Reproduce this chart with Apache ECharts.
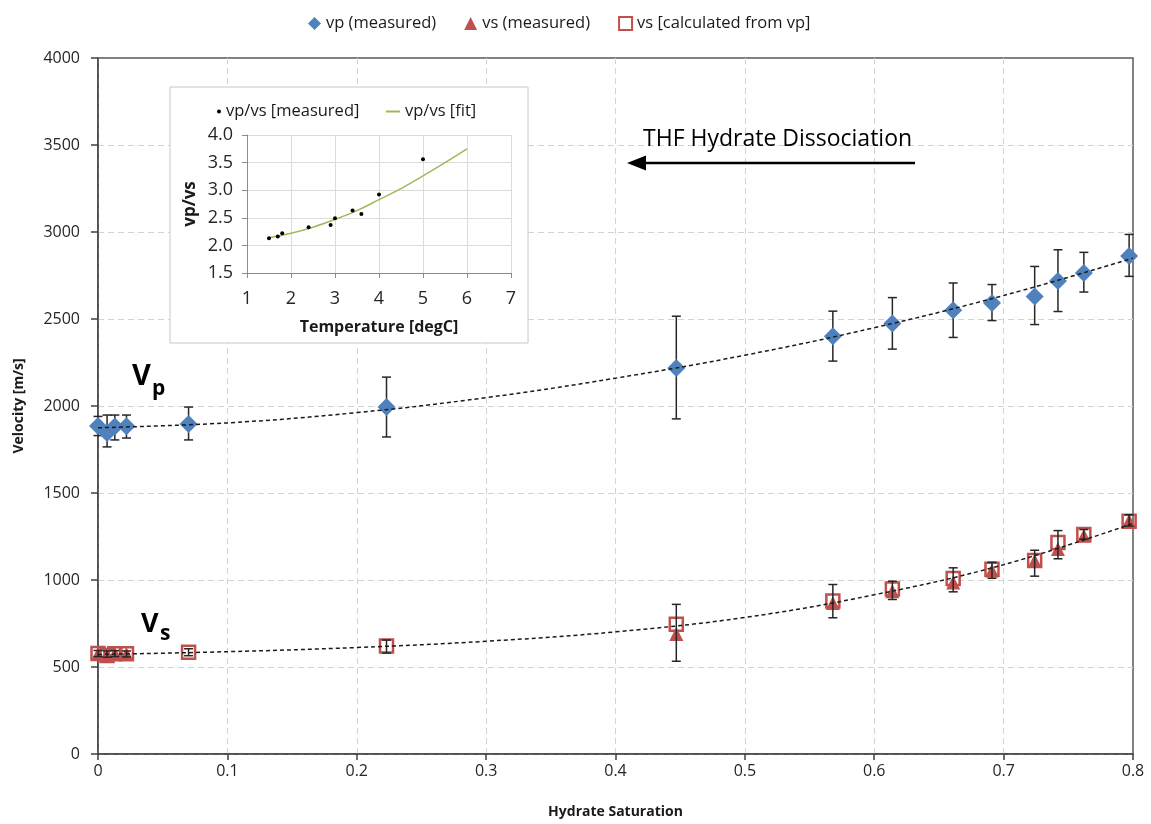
<!DOCTYPE html>
<html>
<head>
<meta charset="utf-8">
<title>Velocity vs Hydrate Saturation</title>
<script src="https://cdn.jsdelivr.net/npm/echarts@6/dist/echarts.min.js"></script>
<style>
  html, body { margin: 0; padding: 0; background: #fff; }
  #chart { width: 1151px; height: 824px; }
</style>
</head>
<body>
<div id="chart"></div>
<script>
// Hydrate saturation of each measurement step
const satVp = [0.000, 0.007, 0.013, 0.022, 0.070, 0.223, 0.447, 0.568, 0.614, 0.661, 0.691, 0.724, 0.742, 0.762, 0.797];
// P-wave velocity [m/s] with error range
const vpMeasured = [1885, 1845, 1882, 1884, 1897, 1994, 2218, 2401, 2474, 2550, 2592, 2630, 2718, 2764, 2862];
const vpLow  = [1830, 1765, 1805, 1816, 1805, 1822, 1926, 2258, 2327, 2394, 2491, 2468, 2543, 2655, 2745];
const vpHigh = [1940, 1948, 1948, 1948, 1994, 2166, 2516, 2545, 2623, 2707, 2698, 2802, 2898, 2883, 2986];

// S-wave velocity calculated from vp [m/s]
const vsCalculated = [578, 566, 576, 576, 585, 620, 745, 880, 948, 1008, 1062, 1112, 1215, 1262, 1338];
const vsLow  = [560, 556, 560, 558, 565, 580, 533, 783, 888, 932, 1010, 1022, 1122, 1235, 1310];
const vsHigh = [595, 592, 594, 592, 605, 655, 860, 974, 993, 1070, 1102, 1171, 1284, 1290, 1375];

// S-wave velocity measured [m/s]
const satVs = [0.000, 0.007, 0.013, 0.022, 0.447, 0.568, 0.614, 0.661, 0.691, 0.724, 0.742, 0.762, 0.797];
const vsMeasured = [575, 575, 578, 575, 690, 868, 935, 985, 1055, 1110, 1178, 1255, 1340];

// Trend lines
const fitSat = [0, 0.1, 0.2, 0.3, 0.4, 0.5, 0.6, 0.7, 0.8];
const vpFit = [1875, 1903, 1962, 2048, 2160, 2292, 2450, 2635, 2850];
const vsFit = [572, 588, 612, 648, 702, 785, 915, 1088, 1325];

// Inset: vp/vs ratio against temperature
const tempMeasured = [1.5, 1.7, 1.8, 2.4, 2.9, 3.0, 3.4, 3.6, 4.0, 5.0];
const ratioMeasured = [2.13, 2.16, 2.22, 2.33, 2.37, 2.49, 2.63, 2.57, 2.92, 3.56];
const tempFit = [1.5, 2, 2.5, 3, 3.5, 4, 4.5, 5, 5.5, 6];
const ratioFit = [2.14, 2.22, 2.33, 2.47, 2.63, 2.83, 3.03, 3.26, 3.50, 3.75];

// Tick settings
const velocityTicks = { min: 0, max: 4000, interval: 500 };
const saturationTicks = { min: 0, max: 0.8, interval: 0.1 };
const tempTicks = { min: 1, max: 7, interval: 1 };
const ratioTicks = { min: 1.5, max: 4.0, interval: 0.5 };

const FONT = "'Open Sans', 'Noto Sans', sans-serif";
const BLUE = '#4F81BD';
const RED = '#C0504D';
const GREEN = '#9BBB59';

const pairs = (xs, ys) => xs.map((x, i) => [x, ys[i]]);
const ranges = (xs, lo, hi) => xs.map((x, i) => [x, lo[i], hi[i]]);

function errorBar(params, api) {
  const x = api.value(0);
  const lo = api.coord([x, api.value(1)]);
  const hi = api.coord([x, api.value(2)]);
  const half = 4.5;
  const style = { stroke: '#262626', lineWidth: 1.5 };
  return {
    type: 'group',
    children: [
      { type: 'line', shape: { x1: lo[0], y1: lo[1], x2: hi[0], y2: hi[1] }, style },
      { type: 'line', shape: { x1: lo[0] - half, y1: lo[1], x2: lo[0] + half, y2: lo[1] }, style },
      { type: 'line', shape: { x1: hi[0] - half, y1: hi[1], x2: hi[0] + half, y2: hi[1] }, style }
    ]
  };
}

const chart = echarts.init(document.getElementById('chart'));

const gridLine = { show: true, showMaxLine: false, lineStyle: { color: '#d3d3d3', type: [6, 4], width: 1 } };
const insetGridLine = { show: true, lineStyle: { color: '#dcdcdc', width: 1 } };
const legendText = { fontSize: 16.5, color: '#1a1a1a', fontFamily: FONT };

chart.setOption({
  animation: false,
  backgroundColor: '#fff',
  textStyle: { fontFamily: FONT },
  legend: [
    {
      data: ['vp (measured)', 'vs (measured)', 'vs [calculated from vp]'],
      left: 303, top: 10,
      itemWidth: 13, itemHeight: 13, itemGap: 28,
      textStyle: legendText
    },
    {
      data: ['vp/vs [measured]'],
      left: 212, top: 98, zlevel: 1, z: 10,
      itemWidth: 4, itemHeight: 4, itemGap: 4,
      textStyle: legendText
    },
    {
      data: [{ name: 'vp/vs [fit]', icon: 'rect' }],
      left: 381, top: 98, zlevel: 1, z: 10,
      itemWidth: 14, itemHeight: 2, itemGap: 2,
      textStyle: legendText
    }
  ],
  grid: [
    {
      left: 98, right: 18, top: 58, bottom: 69,
      show: true, borderColor: '#595959', borderWidth: 1.5, backgroundColor: 'transparent'
    },
    {
      left: 247, top: 135, width: 264, height: 138,
      zlevel: 1, z: 2, show: false
    }
  ],
  xAxis: [
    {
      type: 'value', gridIndex: 0,
      min: saturationTicks.min, max: saturationTicks.max, interval: saturationTicks.interval,
      name: 'Hydrate Saturation', nameLocation: 'middle', nameGap: 51,
      nameTextStyle: { fontSize: 14, fontWeight: 'bold', color: '#1a1a1a', fontFamily: FONT },
      axisLine: { lineStyle: { color: '#404040', width: 1.5 } },
      axisTick: { show: true, inside: false, length: 6, lineStyle: { color: '#404040', width: 1.5 } },
      axisLabel: {
        fontSize: 16, color: '#262626', margin: 9, fontFamily: FONT,
        formatter: v => (v === 0 ? '0' : v.toFixed(1))
      },
      splitLine: gridLine
    },
    {
      type: 'value', gridIndex: 1, zlevel: 1, z: 3,
      min: tempTicks.min, max: tempTicks.max, interval: tempTicks.interval,
      name: 'Temperature [degC]', nameLocation: 'middle', nameGap: 46,
      nameTextStyle: { fontSize: 16, fontWeight: 'bold', color: '#1a1a1a', fontFamily: FONT },
      axisLine: { lineStyle: { color: '#8c8c8c', width: 1 } },
      axisTick: { show: true, inside: false, length: 5, lineStyle: { color: '#8c8c8c' } },
      axisLabel: { fontSize: 18, color: '#262626', margin: 17, fontFamily: FONT },
      splitLine: insetGridLine
    }
  ],
  yAxis: [
    {
      type: 'value', gridIndex: 0,
      min: velocityTicks.min, max: velocityTicks.max, interval: velocityTicks.interval,
      name: 'Velocity [m/s]', nameLocation: 'middle', nameGap: 72,
      nameTextStyle: { fontSize: 14, fontWeight: 'bold', color: '#1a1a1a', fontFamily: FONT },
      axisLine: { show: true, lineStyle: { color: '#404040', width: 1.5 } },
      axisTick: { show: true, inside: false, length: 7, lineStyle: { color: '#404040', width: 1.5 } },
      axisLabel: { fontSize: 16, color: '#262626', margin: 18, fontFamily: FONT, formatter: v => String(v) },
      splitLine: gridLine
    },
    {
      type: 'value', gridIndex: 1, zlevel: 1, z: 3,
      min: ratioTicks.min, max: ratioTicks.max, interval: ratioTicks.interval,
      name: 'vp/vs', nameLocation: 'middle', nameGap: 48,
      nameTextStyle: { fontSize: 17, fontWeight: 'bold', color: '#1a1a1a', fontFamily: FONT },
      axisLine: { show: true, lineStyle: { color: '#8c8c8c', width: 1 } },
      axisTick: { show: true, inside: false, length: 5, lineStyle: { color: '#8c8c8c' } },
      axisLabel: { fontSize: 18, color: '#262626', margin: 14, fontFamily: FONT, formatter: v => v.toFixed(1) },
      splitLine: insetGridLine
    }
  ],
  graphic: [
    // inset frame
    {
      type: 'rect', zlevel: 1, z: 0,
      shape: { x: 170, y: 87, width: 358, height: 256 },
      style: { fill: '#ffffff', stroke: '#c8c8c8', lineWidth: 1 }
    },
    // annotation
    {
      type: 'text', x: 643, y: 139, z: 20,
      style: { text: 'THF Hydrate Dissociation', fontSize: 23, fontFamily: FONT, fill: '#000', verticalAlign: 'middle' }
    },
    {
      type: 'line', z: 20,
      shape: { x1: 915, y1: 163, x2: 642, y2: 163 },
      style: { stroke: '#000', lineWidth: 2.5 }
    },
    {
      type: 'polygon', z: 20,
      shape: { points: [[627, 163], [646, 155.5], [646, 170.5]] },
      style: { fill: '#000' }
    },
    // curve labels
    {
      type: 'text', x: 132, y: 377, z: 20,
      style: { text: 'V', fontSize: 29, fontWeight: 'bold', fontFamily: FONT, fill: '#000', verticalAlign: 'middle' }
    },
    {
      type: 'text', x: 152, y: 389, z: 20,
      style: { text: 'p', fontSize: 21, fontWeight: 'bold', fontFamily: FONT, fill: '#000', verticalAlign: 'middle' }
    },
    {
      type: 'text', x: 141, y: 624, z: 20,
      style: { text: 'V', fontSize: 27, fontWeight: 'bold', fontFamily: FONT, fill: '#000', verticalAlign: 'middle' }
    },
    {
      type: 'text', x: 160, y: 634, z: 20,
      style: { text: 's', fontSize: 21, fontWeight: 'bold', fontFamily: FONT, fill: '#000', verticalAlign: 'middle' }
    }
  ],
  series: [
    {
      name: 'vp error', type: 'custom', xAxisIndex: 0, yAxisIndex: 0, z: 3,
      renderItem: errorBar, encode: { x: 0, y: [1, 2] },
      data: ranges(satVp, vpLow, vpHigh), silent: true
    },
    {
      name: 'vp (measured)', type: 'scatter', xAxisIndex: 0, yAxisIndex: 0, z: 4,
      symbol: 'diamond', symbolSize: 18,
      itemStyle: { color: BLUE, opacity: 1 },
      data: pairs(satVp, vpMeasured)
    },
    {
      name: 'vs (measured)', type: 'scatter', xAxisIndex: 0, yAxisIndex: 0, z: 4,
      symbol: 'triangle', symbolSize: 14,
      itemStyle: { color: RED, opacity: 1 },
      data: pairs(satVs, vsMeasured)
    },
    {
      name: 'vs [calculated from vp]', type: 'scatter', xAxisIndex: 0, yAxisIndex: 0, z: 5,
      symbol: 'rect', symbolSize: 13,
      itemStyle: { color: 'rgba(255,255,255,0)', borderColor: RED, borderWidth: 2.5, opacity: 1 },
      data: pairs(satVp, vsCalculated)
    },
    {
      name: 'vs error', type: 'custom', xAxisIndex: 0, yAxisIndex: 0, z: 6,
      renderItem: errorBar, encode: { x: 0, y: [1, 2] },
      data: ranges(satVp, vsLow, vsHigh), silent: true
    },
    {
      name: 'vp trend', type: 'line', xAxisIndex: 0, yAxisIndex: 0, z: 7,
      smooth: 0.4, showSymbol: false, symbol: 'none',
      lineStyle: { color: '#1a1a1a', width: 1.5, type: [4, 3] },
      data: pairs(fitSat, vpFit)
    },
    {
      name: 'vs trend', type: 'line', xAxisIndex: 0, yAxisIndex: 0, z: 7,
      smooth: 0.4, showSymbol: false, symbol: 'none',
      lineStyle: { color: '#1a1a1a', width: 1.5, type: [4, 3] },
      data: pairs(fitSat, vsFit)
    },
    {
      name: 'vp/vs [measured]', type: 'scatter', xAxisIndex: 1, yAxisIndex: 1, zlevel: 1, z: 6,
      symbol: 'circle', symbolSize: 4,
      itemStyle: { color: '#000', opacity: 1 },
      data: pairs(tempMeasured, ratioMeasured)
    },
    {
      name: 'vp/vs [fit]', type: 'line', xAxisIndex: 1, yAxisIndex: 1, zlevel: 1, z: 5,
      smooth: 0.4, showSymbol: false, symbol: 'none',
      lineStyle: { color: GREEN, width: 1.5 },
      itemStyle: { color: GREEN },
      data: pairs(tempFit, ratioFit)
    }
  ]
});
</script>
</body>
</html>
